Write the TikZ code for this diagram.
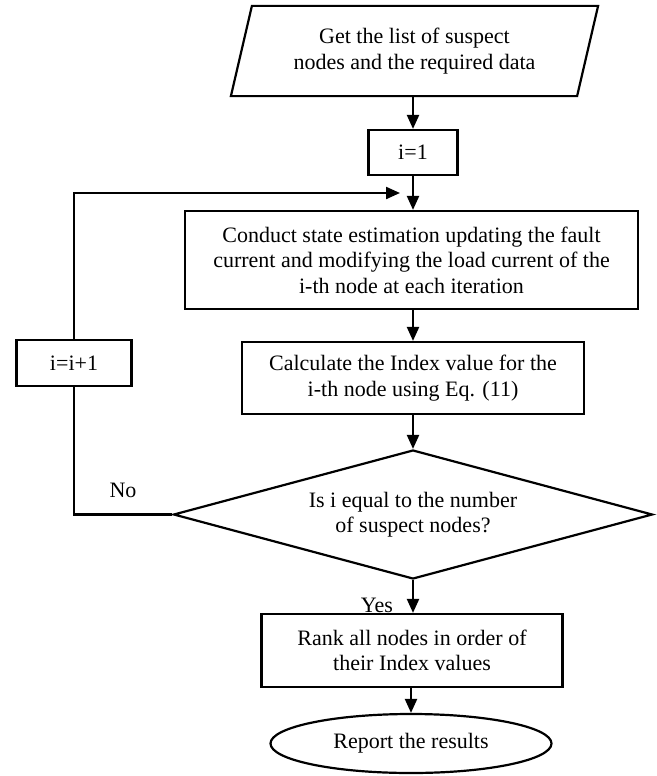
\documentclass[tikz,border=0pt]{standalone}
\usepackage{fontspec}
\setmainfont{Liberation Serif}
\usetikzlibrary{shapes.geometric, arrows.meta}

\begin{document}
\begin{tikzpicture}[x=1pt, y=-1pt, line width=2.2pt,
  font=\fontsize{22}{25.5}\selectfont,
  box/.style={draw, rectangle, align=center, inner sep=0pt},
  arr/.style={-{Triangle[length=14pt,width=12pt]}}]
  \useasboundingbox (0,0) rectangle (656,776);
  % blocks
  \node[rectangle, minimum width=365pt, minimum height=88pt,
    align=center, inner sep=0pt] (data) at (414.5,51)
    {Get the list of suspect\\nodes and the required data};
  \draw ([xshift=21pt]data.north west) -- (data.north east)
    -- ([xshift=-21pt]data.south east) -- (data.south west) -- cycle;
  \node[box, minimum width=89pt, minimum height=45pt] (init) at (413,152.5) {i=1};
  \node[box, minimum width=453pt, minimum height=98pt] (est) at (411.5,260)
    {Conduct state estimation updating the fault\\current and modifying the load current of the\\i-th node at each iteration};
  \node[box, minimum width=342pt, minimum height=72pt] (calc) at (413,378)
    {Calculate the Index value for the\\i-th node using Eq. (11)};
  \node[box, minimum width=115pt, minimum height=46pt] (inc) at (74,363) {i=i+1};
  \node[draw, diamond, aspect=3.7, inner sep=0pt, minimum width=479pt,
    minimum height=129pt, align=center] (dec) at (413,514.5)
    {Is i equal to the number\\of suspect nodes?};
  \node[box, minimum width=301pt, minimum height=73pt] (rank) at (412,650.5)
    {Rank all nodes in order of\\their Index values};
  \node[draw, ellipse, inner sep=0pt, minimum width=281pt, minimum height=59pt]
    (rep) at (411,743.5) {Report the results};
  \coordinate (join) at (400,193);
  % flow
  \draw[arr] (data.south -| init) -- (init);
  \draw[arr] (init) -- (est.north -| init);
  \draw[arr] (est.south -| calc) -- (calc);
  \draw[arr] (calc) -- (dec.north);
  \draw[arr] (dec.south) -- (rank.north -| dec);
  \draw[arr] (rank.south -| rep) -- (rep);
  \draw (dec.west) -| (inc.south);
  \draw[arr] (inc.north) |- (join);
  \node (no) at (123,490) {No};
  \node (yes) at (377,605) {Yes};
\end{tikzpicture}
\end{document}
